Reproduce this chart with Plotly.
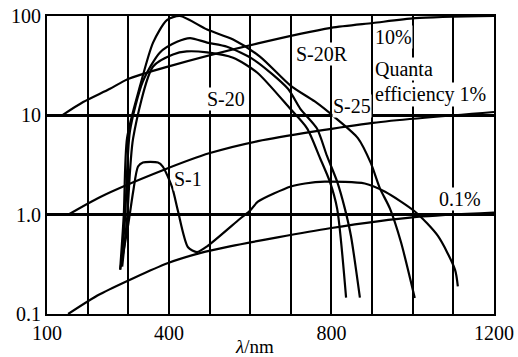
import math
import plotly.graph_objects as go

# ---- data (wavelength nm, radiant sensitivity mA/W) ----
a_wl = [280, 289, 297, 329, 361, 395, 427, 494, 558, 624, 700, 759, 809, 865, 897, 919, 944, 971, 1005]
a_val = [0.28, 1.0, 5.9, 19.8, 54, 91, 100, 73, 58, 39, 19.8, 13.8, 9.5, 5.9, 3.3, 1.85, 1.15, 0.53, 0.145]

b_wl = [282, 292, 304, 336, 378, 420, 452, 494, 543, 610, 693, 723, 764, 789, 814, 833, 848, 870]
b_val = [0.3, 0.9, 6.9, 22, 43, 55, 60, 54, 49, 36, 18.5, 11.7, 7.4, 3.9, 2.15, 1.15, 0.61, 0.146]

c_wl = [285, 297, 312, 361, 410, 444, 494, 558, 617, 698, 740, 772, 796, 814, 836]
c_val = [0.3, 0.9, 5.9, 31, 41, 44, 43, 38, 27, 11.7, 7.4, 3.7, 2.15, 1.15, 0.146]

s1_wl = [280, 300, 312, 324, 336, 373, 385, 408, 422, 447, 469, 494, 575, 600, 619, 700, 735, 784, 882, 932, 1006, 1062, 1104, 1111]
s1_val = [0.28, 0.8, 1.7, 3.05, 3.35, 3.35, 3.05, 1.88, 1.1, 0.47, 0.42, 0.48, 0.91, 1.1, 1.35, 1.92, 2.06, 2.15, 2.06, 1.7, 1.07, 0.61, 0.28, 0.19]

qe10_wl = [139, 189, 255, 297, 393, 619, 799, 902, 1006, 1200]
qe10_val = [10.1, 13.6, 18.5, 23, 30.6, 53, 76, 85, 95, 100]

qe1_wl = [152, 230, 385, 501, 619, 902, 1200]
qe1_val = [1.0, 1.5, 2.8, 4.17, 5.5, 8.4, 10.8]

qe01_wl = [152, 230, 398, 476, 550, 796, 1010, 1200]
qe01_val = [0.1, 0.158, 0.326, 0.41, 0.48, 0.73, 0.95, 1.05]

x_ticks = [100, 400, 800, 1200]
y_ticks = [0.1, 1, 10, 100]
y_ticklabels = ["0.1", "1.0", "10", "100"]

labels = ["S-20", "S-20R", "S-25", "S-1", "0.1%"]
label_wl = [540, 777, 850, 447, 1116]
label_val = [14.7, 41, 12.3, 2.3, 1.45]

qe_text = ["10%", "Quanta", "efficiency 1%"]
qe_text_wl = [905, 905, 905]
qe_text_val = [62, 29.2, 16.1]

FONT = "Liberation Serif, Times New Roman, serif"

fig = go.Figure()
for wl, val, name in [(qe10_wl, qe10_val, "10%"), (qe1_wl, qe1_val, "1%"), (qe01_wl, qe01_val, "0.1%"),
                      (a_wl, a_val, "A"), (b_wl, b_val, "B"), (c_wl, c_val, "C"), (s1_wl, s1_val, "S-1")]:
    fig.add_trace(go.Scatter(x=wl, y=val, mode="lines", name=name,
                             line=dict(color="black", width=2.2, shape="spline", smoothing=0.7),
                             showlegend=False, hoverinfo="skip"))

for t, x, y in zip(labels, label_wl, label_val):
    fig.add_annotation(x=x, y=math.log10(y), yref="y", xref="x", text=t, showarrow=False,
                       font=dict(family=FONT, size=20, color="black"), bgcolor="white", borderpad=0)

for t, x, y in zip(qe_text, qe_text_wl, qe_text_val):
    fig.add_annotation(x=x, y=math.log10(y), xref="x", yref="y", text=t, showarrow=False, xanchor="left",
                       font=dict(family=FONT, size=20, color="black"), bgcolor="white", borderpad=0)

fig.add_annotation(x=0.465, y=-0.108, xref="paper", yref="paper", text="<i>λ</i>/nm", showarrow=False,
                   yanchor="middle", font=dict(family=FONT, size=19, color="black"))

fig.update_xaxes(range=[100, 1200], tickvals=x_ticks, ticks="", showline=True, linecolor="black",
                 linewidth=2, mirror=True, showgrid=True, gridcolor="black", gridwidth=2, zeroline=False,
                 automargin=False,
                 tickfont=dict(family=FONT, size=20, color="black"),
                 minor=dict(tickmode="linear", tick0=100, dtick=100, showgrid=True, gridcolor="black",
                            gridwidth=2, ticks=""))
fig.update_yaxes(type="log", range=[-1, 2], tickvals=y_ticks, ticktext=y_ticklabels, ticks="",
                 showline=True, linecolor="black", linewidth=2, mirror=True, showgrid=True,
                 gridcolor="black", gridwidth=2.5, zeroline=False, automargin=False,
                 tickfont=dict(family=FONT, size=20, color="black"))

fig.update_layout(width=518, height=357, margin=dict(l=47, r=24, t=16, b=43),
                  paper_bgcolor="white", plot_bgcolor="white")

# remove the browser's default 8px body margin so the figure sits at the window's corner
fig.write_html("out.html", config={"displayModeBar": False},
               post_script="document.body.style.margin='0';")
